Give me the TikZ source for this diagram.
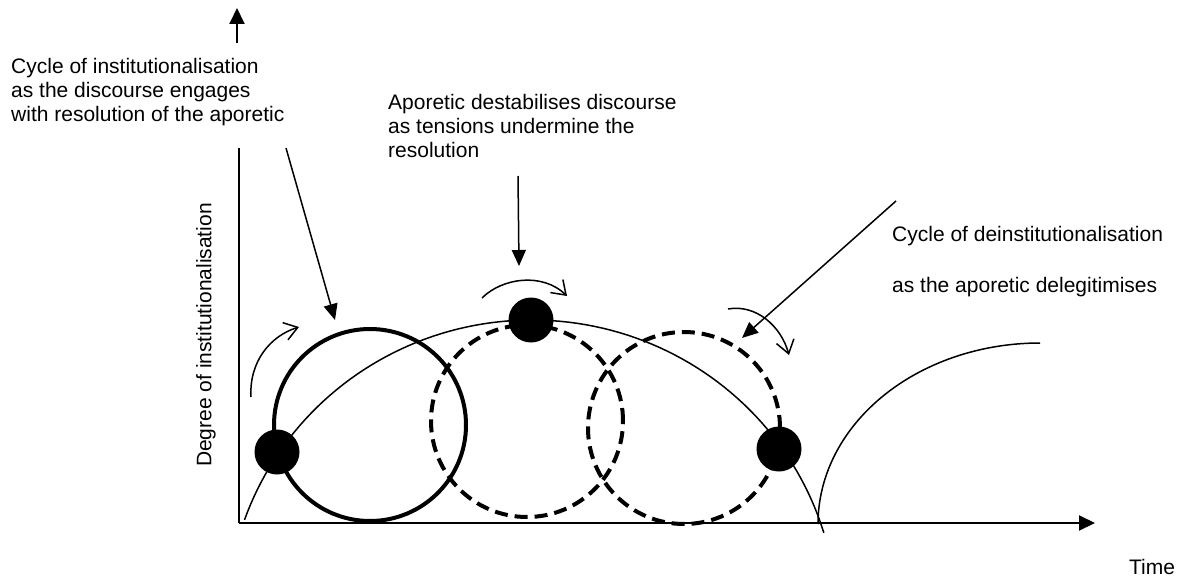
\documentclass[tikz,border=0pt]{standalone}
\usepackage{fontspec}
\setmainfont{Liberation Sans}
\usetikzlibrary{arrows.meta}
\begin{document}
\begin{tikzpicture}[x=1pt,y=-1pt,
  lbl/.style={font=\fontsize{21}{24}\selectfont, inner sep=0pt, align=left},
  thincurve/.style={line width=1.5pt},
  axisline/.style={line width=2pt},
  axisarrow/.style={line width=2pt, -{Triangle[length=16pt,width=15pt]}},
  pointer/.style={line width=1.5pt, -{Triangle[length=16pt,width=14pt]}},
  turn/.style={line width=1.5pt, -{Straight Barb[length=13pt,width=18pt]}},
  dot/.style={circle, fill=black, minimum size=45pt, inner sep=0pt},
  cyc/.style={circle, draw, minimum size=192pt, inner sep=0pt, line width=4pt},
  dashcyc/.style={cyc, dash pattern=on 13pt off 7pt},
]
\useasboundingbox (0,0) rectangle (1184,578);

% axes
\coordinate (O) at (239,523);
\coordinate (ytop) at (239,148);
\coordinate (xend) at (1095,523);
\coordinate (ya) at (237,43);
\coordinate (yb) at (237,8);
\draw[axisline] (O) -- (ytop);
\draw[axisarrow] (ya) -- (yb);
\draw[axisarrow] (O) -- (xend);

% big institutionalisation curve
\draw[thincurve] plot[domain=16.9:160.5, samples=90] ({532+305*cos(\x)}, {620-300*sin(\x)});
% rising curve at right
\draw[thincurve] plot[domain=0:90, samples=60] ({1040-222*cos(\x)}, {524-181*sin(\x)});

% cycles
\node[cyc] (c1) at (370,425) {};
\node[dashcyc] (c2) at (527,421) {};
\node[dashcyc] (c3) at (684,428) {};

% dots
\node[dot] (d1) at (277,452) {};
\node[dot] (d2) at (531,320) {};
\node[dot] (d3) at (779,449) {};

% small turning arrows
\coordinate (t1a) at (251,397);
\coordinate (t1b) at (299,327);
\coordinate (t2a) at (482,298);
\coordinate (t2b) at (567,296);
\coordinate (t3a) at (728,309);
\coordinate (t3b) at (789,355);
\draw[turn] (t1a) .. controls (249,362) and (270,336) .. (t1b);
\draw[turn] (t2a) .. controls (502,278) and (542,272) .. (t2b);
\draw[turn] (t3a) .. controls (756,304) and (781,326) .. (t3b);

% labels
\node[lbl, anchor=north west] (l1) at (11,58) {Cycle of institutionalisation\\as the discourse engages\\with resolution of the aporetic};
\node[lbl, anchor=north west] (l2) at (388,94) {Aporetic destabilises discourse\\as tensions undermine the\\resolution};
\node[lbl, anchor=north west] (l3) at (892,226) {Cycle of deinstitutionalisation\\[27pt]as the aporetic delegitimises};
\node[lbl, rotate=90] (ylab) at (206,335) {Degree of institutionalisation};
\node[lbl] (xlab) at (1152,567) {Time};

% pointers
\coordinate (p1a) at (286,148);
\coordinate (p1b) at (335,320);
\coordinate (p2a) at (518,176);
\coordinate (p2b) at (519,266);
\coordinate (p3a) at (896,201);
\coordinate (p3b) at (742,338);
\draw[pointer] (p1a) -- (p1b);
\draw[pointer] (p2a) -- (p2b);
\draw[pointer] (p3a) -- (p3b);
\end{tikzpicture}
\end{document}
